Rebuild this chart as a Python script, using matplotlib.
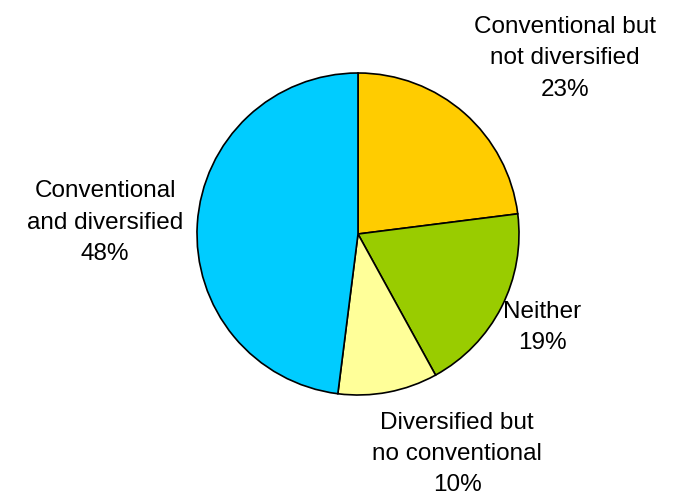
import matplotlib
matplotlib.use('agg')
import matplotlib.pyplot as plt

# data
labels = ['Conventional but\nnot diversified', 'Neither',
          'Diversified but\nno conventional', 'Conventional\nand diversified']
shares = [23, 19, 10, 48]
colors = ['#FFCC00', '#99CC00', '#FFFF99', '#00CCFF']

# label positions in pie units (radius = 1)
label_pos = [(1.286, 1.092), (1.143, -0.58), (0.615, -1.366), (-1.571, 0.07)]

plt.rcParams['font.family'] = ['Liberation Sans', 'DejaVu Sans']

fig = plt.figure(figsize=(6.77, 4.95), dpi=100)
ax = fig.add_axes([0, 0, 1, 1])

ax.pie(shares, colors=colors, startangle=90, counterclock=False,
       wedgeprops=dict(edgecolor='black', linewidth=1.2))

for lab, val, (x, y) in zip(labels, shares, label_pos):
    ax.text(x, y, f'{lab}\n{val}%', ha='center', va='center',
            fontsize=17.5, linespacing=1.55, color='black')

# map pie center to (358, 234) px with 161 px per unit
ax.set_xlim(-358 / 161, (677 - 358) / 161)
ax.set_ylim(-(495 - 234) / 161, 234 / 161)
ax.set_aspect('auto')
ax.axis('off')

plt.savefig('out.png', dpi=100)
plt.close(fig)
